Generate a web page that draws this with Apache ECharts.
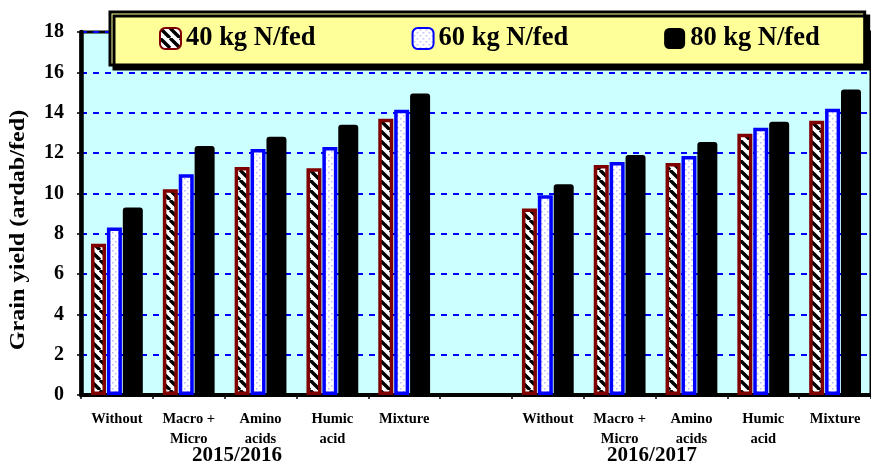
<!DOCTYPE html>
<html>
<head>
<meta charset="utf-8">
<script src="https://cdn.jsdelivr.net/npm/echarts@6/dist/echarts.min.js"></script>
<style>
  html, body { margin: 0; padding: 0; background: #fff; }
  #main { width: 871px; height: 464px; }
</style>
</head>
<body>
<div id="main"></div>
<script>
const categories = ['Without', 'Macro +\nMicro', 'Amino\nacids', 'Humic\nacid', 'Mixture', '',
  'Without', 'Macro +\nMicro', 'Amino\nacids', 'Humic\nacid', 'Mixture'];
const seasons = ['2015/2016', '2016/2017'];
const legendNames = ['40 kg N/fed', '60 kg N/fed', '80 kg N/fed'];
const n40 = [7.5, 10.2, 11.3, 11.25, 13.7, '-', 9.25, 11.4, 11.5, 12.95, 13.6];
const n60 = [8.3, 10.95, 12.2, 12.3, 14.15, '-', 9.9, 11.55, 11.85, 13.25, 14.2];
const n80 = [9.3, 12.35, 12.8, 13.4, 14.95, '-', 10.45, 11.9, 12.55, 13.55, 15.15];

const FONT = '"Liberation Serif", "Times New Roman", serif';

// stripes for 40 kg
function stripes() {
  const c = document.createElement('canvas');
  c.width = 10; c.height = 10;
  const g = c.getContext('2d');
  g.fillStyle = '#fff';
  g.fillRect(0, 0, 10, 10);
  g.strokeStyle = '#000';
  g.lineWidth = 3.4;
  g.beginPath();
  for (let k = -10; k <= 20; k += 10) {
    g.moveTo(k, 0);
    g.lineTo(k + 10, 10);
  }
  g.stroke();
  return c;
}
// dots for 60 kg
function dots() {
  const c = document.createElement('canvas');
  c.width = 6; c.height = 6;
  const g = c.getContext('2d');
  g.fillStyle = '#fff';
  g.fillRect(0, 0, 6, 6);
  g.fillStyle = '#b8b8ff';
  g.fillRect(1, 1, 1.5, 1.5);
  g.fillRect(4, 4, 1.5, 1.5);
  return c;
}

const myChart = echarts.init(document.getElementById('main'));

const option = {
  animation: false,
  legend: {
    left: 110,
    top: 12,
    padding: [13, 45, 13, 49],
    itemGap: 96,
    itemWidth: 21,
    itemHeight: 21,
    icon: 'roundRect',
    backgroundColor: '#ffff99',
    borderColor: '#000',
    borderWidth: 3,
    shadowColor: '#000',
    shadowBlur: 0.1,
    shadowOffsetX: 4,
    shadowOffsetY: 4,
    textStyle: { fontFamily: FONT, fontWeight: 'bold', fontSize: 26.5, color: '#000' },
    data: legendNames
  },
  grid: {
    left: 81,
    top: 32,
    width: 798,
    height: 363,
    show: true,
    backgroundColor: '#ccffff',
    borderColor: '#000',
    borderWidth: 3
  },
  xAxis: {
    type: 'category',
    data: categories,
    axisLine: { lineStyle: { color: '#000', width: 4 } },
    axisTick: { show: true, length: 4, lineStyle: { color: '#000', width: 1.5 } },
    axisLabel: {
      interval: 0,
      margin: 14,
      fontFamily: FONT,
      fontWeight: 'bold',
      fontSize: 14.5,
      lineHeight: 20,
      color: '#000'
    }
  },
  yAxis: {
    type: 'value',
    min: 0,
    max: 18,
    interval: 2,
    axisLine: { show: true, lineStyle: { color: '#000', width: 4.5 } },
    axisTick: { show: true, length: 4, lineStyle: { color: '#000', width: 1.5 } },
    axisLabel: {
      margin: 17,
      fontFamily: FONT,
      fontWeight: 'bold',
      fontSize: 20,
      color: '#000'
    },
    splitLine: { lineStyle: { color: '#0000ff', width: 2, type: [6, 6] } }
  },
  graphic: [
    {
      type: 'text',
      x: 18, y: 230,
      rotation: Math.PI / 2,
      scaleX: 1.1,
      style: {
        text: 'Grain yield (ardab/fed)',
        font: 'bold 22px ' + FONT,
        fill: '#000',
        textAlign: 'center',
        textVerticalAlign: 'middle'
      }
    },
    {
      type: 'text',
      x: 237, y: 456,
      style: {
        text: seasons[0],
        font: 'bold 21px ' + FONT,
        fill: '#000',
        textAlign: 'center',
        textVerticalAlign: 'middle'
      }
    },
    {
      type: 'text',
      x: 652, y: 456,
      style: {
        text: seasons[1],
        font: 'bold 21px ' + FONT,
        fill: '#000',
        textAlign: 'center',
        textVerticalAlign: 'middle'
      }
    }
  ],
  series: [
    {
      name: legendNames[0],
      type: 'bar',
      barWidth: 15,
      barGap: '6%',
      data: n40,
      itemStyle: {
        color: { image: stripes(), repeat: 'repeat' },
        borderColor: '#800000',
        borderWidth: 3.5
      }
    },
    {
      name: legendNames[1],
      type: 'bar',
      barWidth: 15,
      barGap: '6%',
      data: n60,
      itemStyle: {
        color: { image: dots(), repeat: 'repeat' },
        borderColor: '#0000ff',
        borderWidth: 3.5
      }
    },
    {
      name: legendNames[2],
      type: 'bar',
      barWidth: 20,
      barGap: '6%',
      data: n80,
      itemStyle: {
        color: '#000',
        borderRadius: [3, 3, 0, 0]
      }
    }
  ]
};

myChart.setOption(option);
</script>
</body>
</html>
